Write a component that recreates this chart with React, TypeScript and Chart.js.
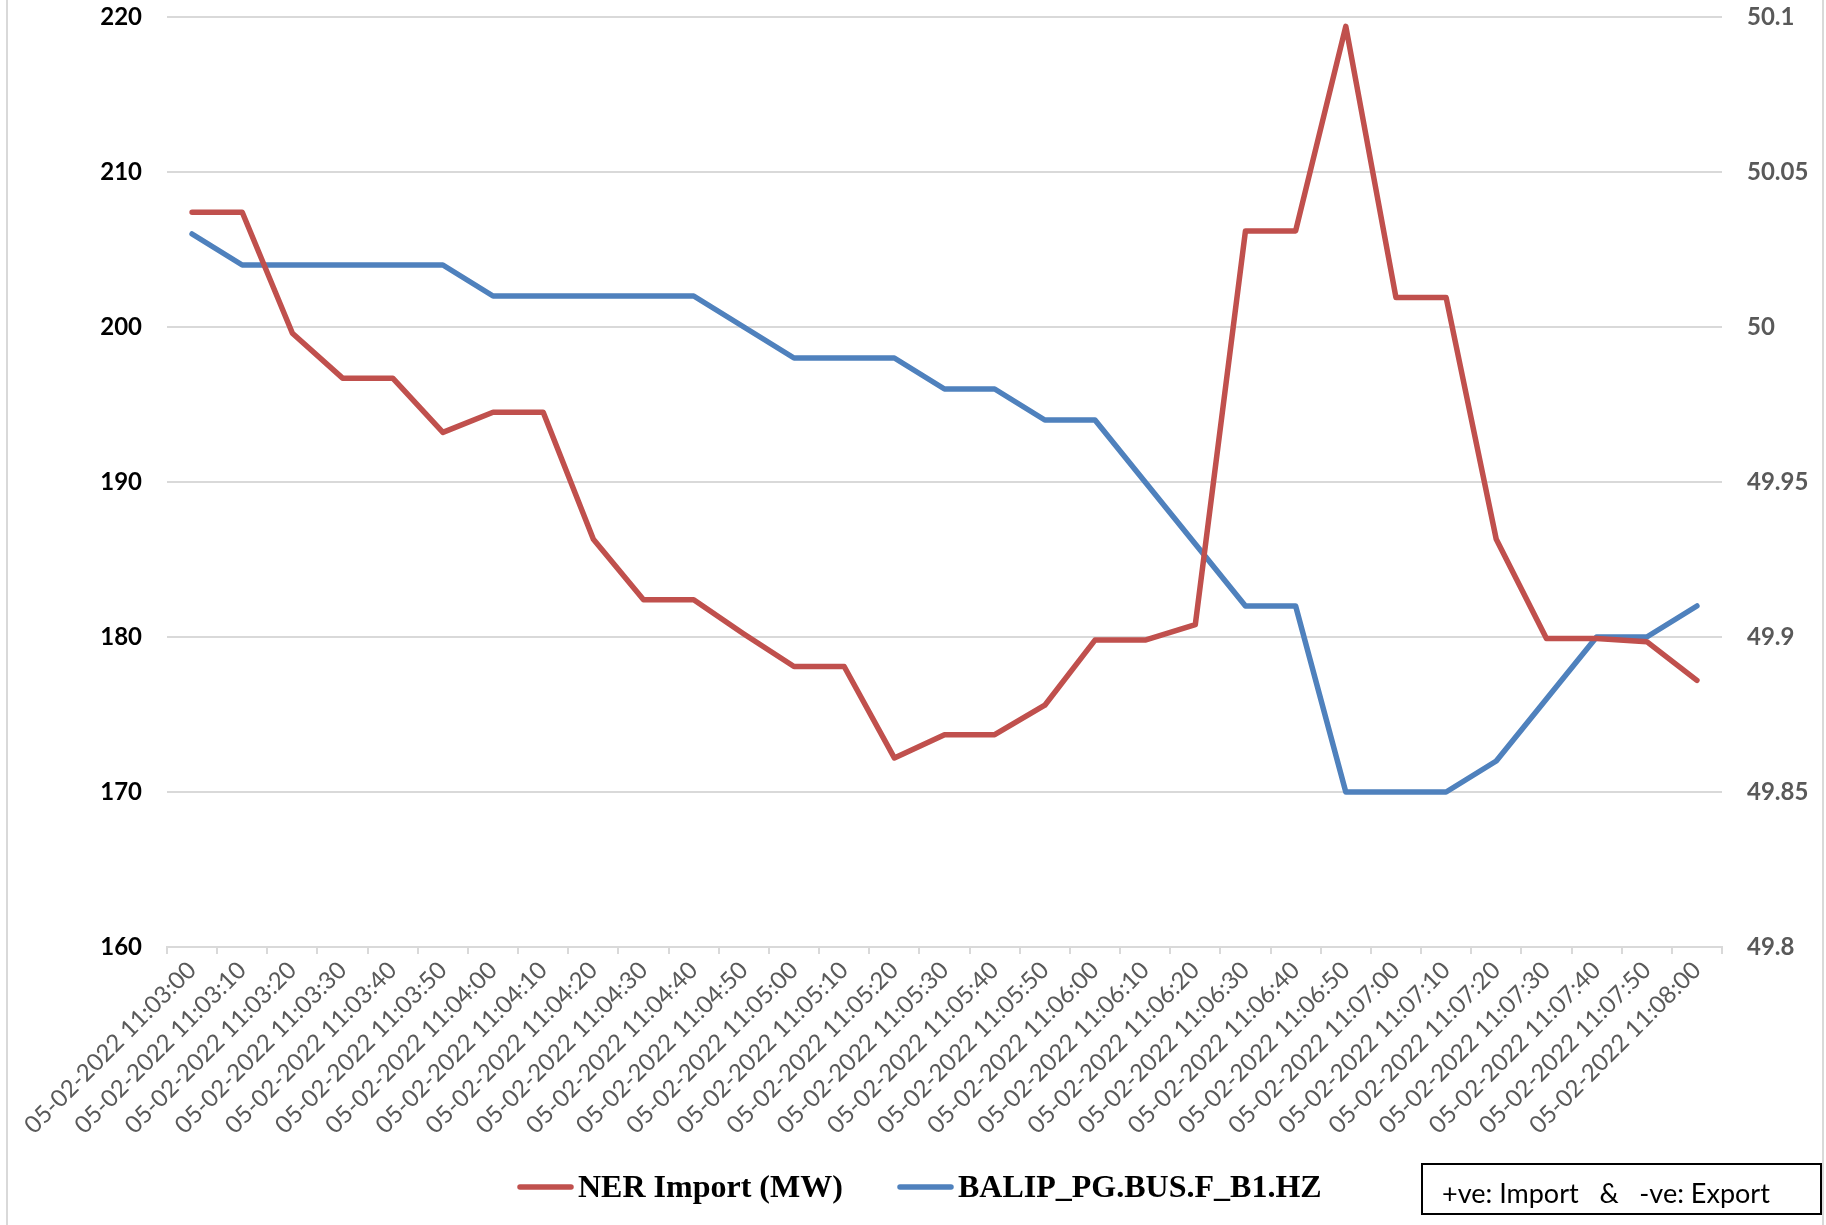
import React, { useEffect, useRef } from "react";
import { Chart, registerables } from "chart.js";

Chart.register(...registerables);

const categories = [
  "05-02-2022 11:03:00", "05-02-2022 11:03:10", "05-02-2022 11:03:20", "05-02-2022 11:03:30",
  "05-02-2022 11:03:40", "05-02-2022 11:03:50", "05-02-2022 11:04:00", "05-02-2022 11:04:10",
  "05-02-2022 11:04:20", "05-02-2022 11:04:30", "05-02-2022 11:04:40", "05-02-2022 11:04:50",
  "05-02-2022 11:05:00", "05-02-2022 11:05:10", "05-02-2022 11:05:20", "05-02-2022 11:05:30",
  "05-02-2022 11:05:40", "05-02-2022 11:05:50", "05-02-2022 11:06:00", "05-02-2022 11:06:10",
  "05-02-2022 11:06:20", "05-02-2022 11:06:30", "05-02-2022 11:06:40", "05-02-2022 11:06:50",
  "05-02-2022 11:07:00", "05-02-2022 11:07:10", "05-02-2022 11:07:20", "05-02-2022 11:07:30",
  "05-02-2022 11:07:40", "05-02-2022 11:07:50", "05-02-2022 11:08:00",
];

const nerImport = [
  207.4, 207.4, 199.6, 196.7, 196.7, 193.2, 194.5, 194.5, 186.3, 182.4,
  182.4, 180.2, 178.1, 178.1, 172.2, 173.7, 173.7, 175.6, 179.8, 179.8,
  180.8, 206.2, 206.2, 219.4, 201.9, 201.9, 186.3, 179.9, 179.9, 179.7,
  177.2,
];

const busFrequency = [
  50.03, 50.02, 50.02, 50.02, 50.02, 50.02, 50.01, 50.01, 50.01, 50.01,
  50.01, 50.0, 49.99, 49.99, 49.99, 49.98, 49.98, 49.97, 49.97, 49.95,
  49.93, 49.91, 49.91, 49.85, 49.85, 49.85, 49.86, 49.88, 49.9, 49.9,
  49.91,
];

const leftTicks = [160, 170, 180, 190, 200, 210, 220];
const rightTicks = [49.8, 49.85, 49.9, 49.95, 50.0, 50.05, 50.1];

const seriesNames = ["NER Import (MW)", "BALIP_PG.BUS.F_B1.HZ"];
const noteText = "+ve: Import   &   -ve: Export";

const RED = "#C0504D";
const BLUE = "#4F81BD";
const GRID = "#d9d9d9";
const AXIS_TEXT = "#595959";

const W = 1826;
const H = 1225;

const decorPlugin = {
  id: "decor",
  afterDraw(chart: any) {
    const ctx = chart.ctx as CanvasRenderingContext2D;
    ctx.save();
    ctx.strokeStyle = GRID;
    ctx.lineWidth = 2;
    ctx.beginPath();
    ctx.moveTo(7, 0);
    ctx.lineTo(7, H);
    ctx.moveTo(1823, 0);
    ctx.lineTo(1823, H);
    ctx.stroke();

    const items = [
      { x0: 520, x1: 571, tx: 578, color: RED, text: seriesNames[0] },
      { x0: 900, x1: 951, tx: 958, color: BLUE, text: seriesNames[1] },
    ];
    ctx.lineCap = "round";
    ctx.lineWidth = 5.5;
    for (const it of items) {
      ctx.strokeStyle = it.color;
      ctx.beginPath();
      ctx.moveTo(it.x0, 1187);
      ctx.lineTo(it.x1, 1187);
      ctx.stroke();
      ctx.fillStyle = "#000";
      ctx.font = "bold 32px 'Liberation Serif', 'Times New Roman', serif";
      ctx.textAlign = "left";
      ctx.textBaseline = "alphabetic";
      ctx.fillText(it.text, it.tx, 1197);
    }

    ctx.lineCap = "butt";
    ctx.strokeStyle = "#000";
    ctx.lineWidth = 2;
    ctx.strokeRect(1422, 1164, 399, 50);
    ctx.fillStyle = "#000";
    ctx.font = "27px Lato, 'Open Sans', sans-serif";
    ctx.textAlign = "left";
    ctx.textBaseline = "alphabetic";
    ctx.fillText(noteText, 1442, 1203);
    ctx.restore();
  },
};

export default function App() {
  const canvasRef = useRef<HTMLCanvasElement | null>(null);

  useEffect(() => {
    document.body.style.margin = "0";
    document.body.style.overflow = "hidden";
    const canvas = canvasRef.current;
    if (!canvas) return;

    const chart = new Chart(canvas, {
      type: "line",
      data: {
        labels: categories,
        datasets: [
          {
            label: seriesNames[0],
            data: nerImport,
            yAxisID: "y",
            borderColor: RED,
            backgroundColor: RED,
            borderWidth: 5.5,
            pointRadius: 0,
            tension: 0,
            borderJoinStyle: "round",
            borderCapStyle: "round",
          },
          {
            label: seriesNames[1],
            data: busFrequency,
            yAxisID: "y1",
            borderColor: BLUE,
            backgroundColor: BLUE,
            borderWidth: 5.5,
            pointRadius: 0,
            tension: 0,
            borderJoinStyle: "round",
            borderCapStyle: "round",
          },
        ],
      },
      options: {
        responsive: false,
        animation: false,
        devicePixelRatio: 1,
        layout: { padding: { top: 17, left: 0, right: 0, bottom: 0 } },
        plugins: {
          legend: { display: false },
          tooltip: { enabled: false },
        },
        scales: {
          x: {
            type: "category",
            offset: true,
            grid: {
              display: true,
              offset: true,
              drawOnChartArea: false,
              drawTicks: true,
              tickLength: 7,
              color: GRID,
              lineWidth: 2,
            },
            border: { display: true, color: GRID, width: 2 },
            ticks: {
              autoSkip: false,
              maxRotation: 45,
              minRotation: 45,
              padding: 2,
              color: AXIS_TEXT,
              font: { family: "Lato, 'Open Sans', sans-serif", size: 24 },
            },
            afterFit: (scale: any) => {
              scale.height = 278;
            },
          },
          y: {
            type: "linear",
            position: "left",
            min: 160,
            max: 220,
            grid: {
              display: true,
              drawTicks: true,
              tickLength: 25,
              tickColor: "rgba(0,0,0,0)",
              color: GRID,
              lineWidth: 2,
            },
            border: { display: false },
            ticks: {
              padding: 0,
              color: "#000",
              font: { family: "Lato, 'Open Sans', sans-serif", size: 24, weight: "bold" },
              callback: (v: any) => String(v),
            },
            afterBuildTicks: (scale: any) => {
              scale.ticks = leftTicks.map((v) => ({ value: v }));
            },
            afterFit: (scale: any) => {
              scale.width = 167;
            },
          },
          y1: {
            type: "linear",
            position: "right",
            min: 49.8,
            max: 50.1,
            grid: {
              display: true,
              drawOnChartArea: false,
              drawTicks: true,
              tickLength: 25,
              tickColor: "rgba(0,0,0,0)",
              color: "rgba(0,0,0,0)",
            },
            border: { display: false },
            ticks: {
              padding: 0,
              color: AXIS_TEXT,
              font: { family: "Lato, 'Open Sans', sans-serif", size: 24, weight: "bold" },
              callback: (v: any) => String(Number(Number(v).toFixed(2))),
            },
            afterBuildTicks: (scale: any) => {
              scale.ticks = rightTicks.map((v) => ({ value: v }));
            },
            afterFit: (scale: any) => {
              scale.width = 104;
            },
          },
        },
      },
      plugins: [decorPlugin],
    } as any);

    return () => {
      chart.destroy();
    };
  }, []);

  return (
    <div style={{ width: W, height: H, background: "#fff" }}>
      <canvas ref={canvasRef} width={W} height={H} style={{ display: "block", width: W, height: H }} />
    </div>
  );
}
